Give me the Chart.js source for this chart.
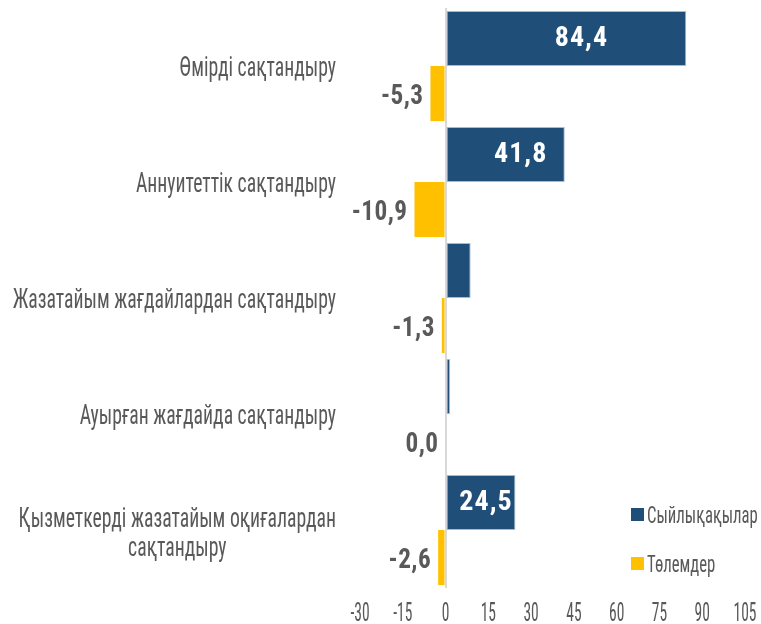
<!DOCTYPE html>
<html>
<head>
<meta charset="utf-8">
<script src="https://cdn.jsdelivr.net/npm/chart.js@4.4.1/dist/chart.umd.min.js"></script>
<style>
  body { margin: 0; background: #fff; }
  #wrap { width: 761px; height: 624px; position: relative; }
</style>
</head>
<body>
<div id="wrap"><canvas id="chart"></canvas></div>
<script>
// categories (multi-line labels as arrays)
const categories = [
    ["Өмірді сақтандыру"],
    ["Аннуитеттік сақтандыру"],
    ["Жазатайым жағдайлардан сақтандыру"],
    ["Ауырған жағдайда сақтандыру"],
    ["Қызметкерді жазатайым оқиғалардан", "сақтандыру"]
];
// series values
const premiums = [84.4, 41.8, 8.8, 1.6, 24.5];
const payments = [-5.3, -10.9, -1.3, 0.0, -2.6];
const seriesNames = ["Сыйлықақылар", "Төлемдер"];
// x axis tick range
const xMin = -30, xMax = 105, xStep = 15;

const FONT = "'Roboto Condensed', 'DejaVu Sans Condensed', 'Liberation Sans Narrow', 'DejaVu Sans', sans-serif";
const GREY = "#595959";
const BLUE = "#1F4E79";
const GOLD = "#FFC000";

function fmt(v) {
    return v.toFixed(1).replace(".", ",");
}

function setFont(ctx, spec) {
    ctx.font = "condensed " + spec + " " + FONT;
    if ("fontStretch" in ctx) ctx.fontStretch = "condensed";
}

// the original font is much narrower than anything installed,
// so squeeze the text horizontally around its anchor point
function squeezedText(ctx, text, x, y, sx) {
    ctx.save();
    ctx.translate(x, y);
    ctx.scale(sx, 1);
    ctx.fillText(text, 0, 0);
    ctx.restore();
}

// category names on the left, lines centered to each other, block right aligned
const categoryLabels = {
    id: "categoryLabels",
    afterDraw(chart) {
        const ctx = chart.ctx;
        const yScale = chart.scales.y;
        const right = 336;
        const lineH = 29;
        const sx = 0.73;
        ctx.save();
        setFont(ctx, "27px");
        ctx.fillStyle = GREY;
        ctx.textAlign = "center";
        ctx.textBaseline = "middle";
        categories.forEach((lines, i) => {
            const yc = yScale.getPixelForValue(i);
            let maxW = 0;
            lines.forEach(l => { maxW = Math.max(maxW, ctx.measureText(l).width * sx); });
            const cx = right - maxW / 2;
            const top = yc - (lines.length - 1) * lineH / 2 + (lines.length > 1 ? 5 : 3);
            lines.forEach((l, k) => squeezedText(ctx, l, cx, top + k * lineH, sx));
        });
        ctx.restore();
    }
};

// x axis numbers, drawn from the scale's own ticks
const xTickLabels = {
    id: "xTickLabels",
    afterDraw(chart) {
        const ctx = chart.ctx;
        const xs = chart.scales.x;
        ctx.save();
        setFont(ctx, "25px");
        ctx.fillStyle = GREY;
        ctx.textAlign = "center";
        ctx.textBaseline = "middle";
        xs.ticks.forEach(t => {
            squeezedText(ctx, String(t.value), xs.getPixelForValue(t.value), xs.top + 27, 0.62);
        });
        ctx.restore();
    }
};

// value labels: white inside for big blue bars, grey outside for the gold ones
const valueLabels = {
    id: "valueLabels",
    afterDatasetsDraw(chart) {
        const ctx = chart.ctx;
        ctx.save();
        setFont(ctx, "bold 28px");
        ctx.textBaseline = "middle";
        if ("letterSpacing" in ctx) ctx.letterSpacing = "1px";
        chart.getDatasetMeta(0).data.forEach((bar, i) => {
            const v = premiums[i];
            if (v < 20) return;
            const w = bar.x - bar.base;
            ctx.fillStyle = "#ffffff";
            ctx.textAlign = "center";
            ctx.fillText(fmt(v), (bar.x + bar.base) / 2 + (w > 100 ? 15 : 5), bar.y + 1);
        });
        if ("letterSpacing" in ctx) ctx.letterSpacing = "0.5px";
        chart.getDatasetMeta(1).data.forEach((bar, i) => {
            const v = payments[i];
            ctx.fillStyle = GREY;
            ctx.textAlign = "right";
            squeezedText(ctx, fmt(v), Math.min(bar.x, bar.base) - 7, bar.y + 3, 0.9);
        });
        ctx.restore();
    }
};

// legend placed inside the plot, lower right
const sideLegend = {
    id: "sideLegend",
    afterDraw(chart) {
        const ctx = chart.ctx;
        const x = 631, y0 = 515, gap = 49;
        ctx.save();
        setFont(ctx, "23px");
        ctx.textBaseline = "middle";
        ctx.textAlign = "left";
        chart.data.datasets.forEach((ds, i) => {
            const y = y0 + i * gap;
            ctx.fillStyle = ds.backgroundColor;
            ctx.fillRect(x, y - 7, 13, 13);
            ctx.fillStyle = GREY;
            squeezedText(ctx, ds.label, x + 16, y + 2, 0.726);
        });
        ctx.restore();
    }
};

new Chart(document.getElementById("chart"), {
    type: "bar",
    data: {
        labels: categories,
        datasets: [
            {
                label: seriesNames[0],
                data: premiums,
                backgroundColor: BLUE,
                borderColor: "#a7bbd0",
                borderWidth: 1,
                borderSkipped: false
            },
            {
                label: seriesNames[1],
                data: payments,
                backgroundColor: GOLD,
                borderWidth: 0
            }
        ]
    },
    options: {
        indexAxis: "y",
        responsive: true,
        maintainAspectRatio: false,
        animation: false,
        categoryPercentage: 0.95,
        barPercentage: 1.0,
        layout: { padding: { top: 8, right: 16, left: 0, bottom: 0 } },
        plugins: {
            legend: { display: false },
            tooltip: { enabled: false }
        },
        scales: {
            x: {
                min: xMin,
                max: xMax,
                ticks: { stepSize: xStep, display: false },
                grid: {
                    drawTicks: false,
                    color: ctx => (ctx.tick && ctx.tick.value === 0 ? "#d9d9d9" : "rgba(0,0,0,0)"),
                    lineWidth: 2
                },
                border: { display: false },
                afterFit(scale) { scale.height = 36; scale.paddingRight = 0; scale.paddingLeft = 0; }
            },
            y: {
                ticks: { display: false },
                grid: { display: false },
                border: { display: false },
                afterFit(scale) { scale.width = 360; }
            }
        }
    },
    plugins: [categoryLabels, xTickLabels, valueLabels, sideLegend]
});
</script>
</body>
</html>
